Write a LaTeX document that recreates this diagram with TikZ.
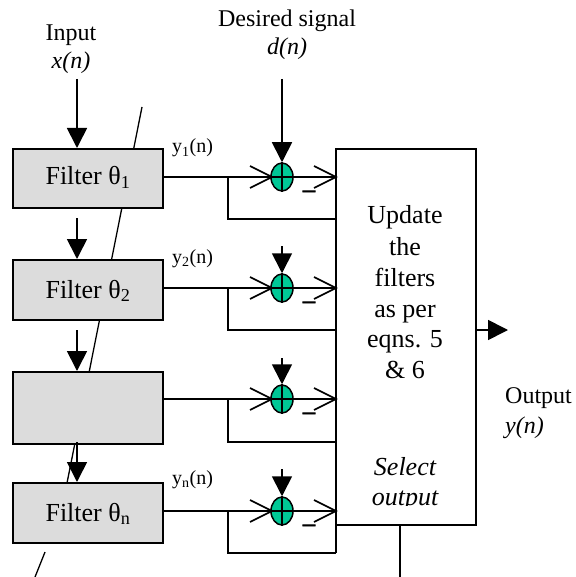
\documentclass[tikz,border=0pt]{standalone}
\usepackage{fontspec}
\setmainfont{Liberation Serif}
\usetikzlibrary{arrows.meta,shapes.geometric}
\definecolor{boxgray}{HTML}{DCDCDC}
\definecolor{sumgreen}{HTML}{00C896}
\tikzset{
  x=1pt,y=-1pt,
  lbl/.style={inner sep=0pt,anchor=base,font=\fontsize{#1}{#1}\selectfont},
  lbll/.style={inner sep=0pt,anchor=base west,font=\fontsize{#1}{#1}\selectfont},
  filterbox/.style={draw=black,line width=2pt,fill=boxgray,inner sep=0pt,minimum width=150pt},
  mainbox/.style={draw=black,line width=2pt,fill=white,inner sep=0pt,minimum width=140pt,minimum height=376pt},
  sumnode/.style={draw=black,line width=1.5pt,fill=sumgreen,ellipse,inner sep=0pt,minimum width=22pt,minimum height=28pt},
  wire/.style={draw=black,line width=1.7pt},
  bigarrow/.style={wire,-{Triangle[width=20pt,length=20pt]}},
  barb/.style={draw=black,line width=1.7pt,line join=miter},
  stray/.style={draw=black,line width=1.3pt},
}
\begin{document}
\begin{tikzpicture}
\useasboundingbox (0,0) rectangle (575,577);
% stray slanted line behind the boxes
\coordinate (st1) at (142,107);
\coordinate (st2) at (67,483);
\coordinate (st3) at (45,552);
\coordinate (st4) at (35,577);
\draw[stray] (st1) -- (st2);
\draw[stray] (st3) -- (st4);
% filter boxes
\node[filterbox,minimum height=59pt] (f1) at (87.5,178.5) {};
\node[filterbox,minimum height=60pt] (f2) at (87.5,290) {};
\node[filterbox,minimum height=72pt] (f3) at (87.5,408) {};
\node[filterbox,minimum height=60pt] (f4) at (87.5,513) {};
\node[lbl=26] (tf1) at (88,185) {Filter θ\textsubscript{1}};
\node[lbl=26] (tf2) at (88,298) {Filter θ\textsubscript{2}};
\node[lbl=26] (tf4) at (88,521) {Filter θ\textsubscript{n}};
% main box
\node[mainbox] (m) at (406,337) {};
% input arrows
\coordinate (i1) at (77,79);
\coordinate (i2) at (77,218);
\coordinate (i3) at (77,330);
\coordinate (i4) at (77,442);
\draw[bigarrow] (i1) -- (i1 |- f1.north);
\draw[bigarrow] (i2) -- (i2 |- f2.north);
\draw[bigarrow] (i3) -- (i3 |- f3.north);
\draw[bigarrow] (i4) -- (i4 |- f4.north);
% summing rows
\foreach \n/\yy/\top/\fb in {1/177/79/219,2/288/246/330,3/399/358/442,4/511/469/553}{
  \coordinate (t\n) at (282,\top);
  \coordinate (b\n) at (228,\yy);
  \coordinate (c\n) at (336,\fb);
  \coordinate (la\n) at (272,\yy);
  \coordinate (ra\n) at (336,\yy);
  \draw[wire] (f\n.east |- la\n) -- (ra\n);
  \draw[wire] (b\n) |- (c\n);
  \draw[barb] (250,\yy-11) -- (la\n) -- (250,\yy+11);
  \draw[barb] (314,\yy-11) -- (ra\n) -- (314,\yy+11);
  \node[sumnode] (s\n) at (282,\yy) {};
  \draw[line width=1.5pt] (s\n.north) -- (s\n.south) (s\n.west) -- (s\n.east);
  \draw[bigarrow] (t\n) -- (s\n.north);
  \node[lbl=24] (mn\n) at (309,\yy+20) {\addfontfeature{FakeBold=3}–};
}
\draw[wire] (c4) -- (c4 |- m.south);
% main box text
\node[lbl=26] (u1) at (405,223) {Update};
\node[lbl=26] (u2) at (405,255) {the};
\node[lbl=26] (u3) at (405,286) {filters};
\node[lbl=26] (u4) at (405,317) {as per};
\node[lbl=26] (u5) at (405,347) {eqns. 5};
\node[lbl=26] (u6) at (405,378) {\& 6};
\node[lbl=26] (u7) at (405,475) {\itshape Select};
\begin{scope}
  \clip (340,480) rectangle (470,505.5);
  \node[lbl=26] (u8) at (405,505) {\itshape output};
\end{scope}
% outgoing lines
\coordinate (o1) at (508,330);
\draw[wire,-{Triangle[width=20pt,length=20pt]}] (m.east |- o1) -- (o1);
\coordinate (o2) at (400,577);
\draw[wire] (o2 |- m.south) -- (o2);
% labels
\node[lbl=24] (l1) at (71,41) {Input};
\node[lbl=24] (l2) at (71,69) {\itshape x(n)};
\node[lbl=24] (l3) at (287,27) {Desired signal};
\node[lbl=24] (l4) at (287,55) {\itshape d(n)};
\node[lbll=20] (y1) at (172,153) {y\textsubscript{1}(n)};
\node[lbll=20] (y2) at (172,263) {y\textsubscript{2}(n)};
\node[lbll=20] (yn) at (172,484) {y\textsubscript{n}(n)};
\node[lbll=24] (l5) at (505,403) {Output};
\node[lbll=24] (l6) at (505,433) {\itshape y(n)};
\end{tikzpicture}
\end{document}
